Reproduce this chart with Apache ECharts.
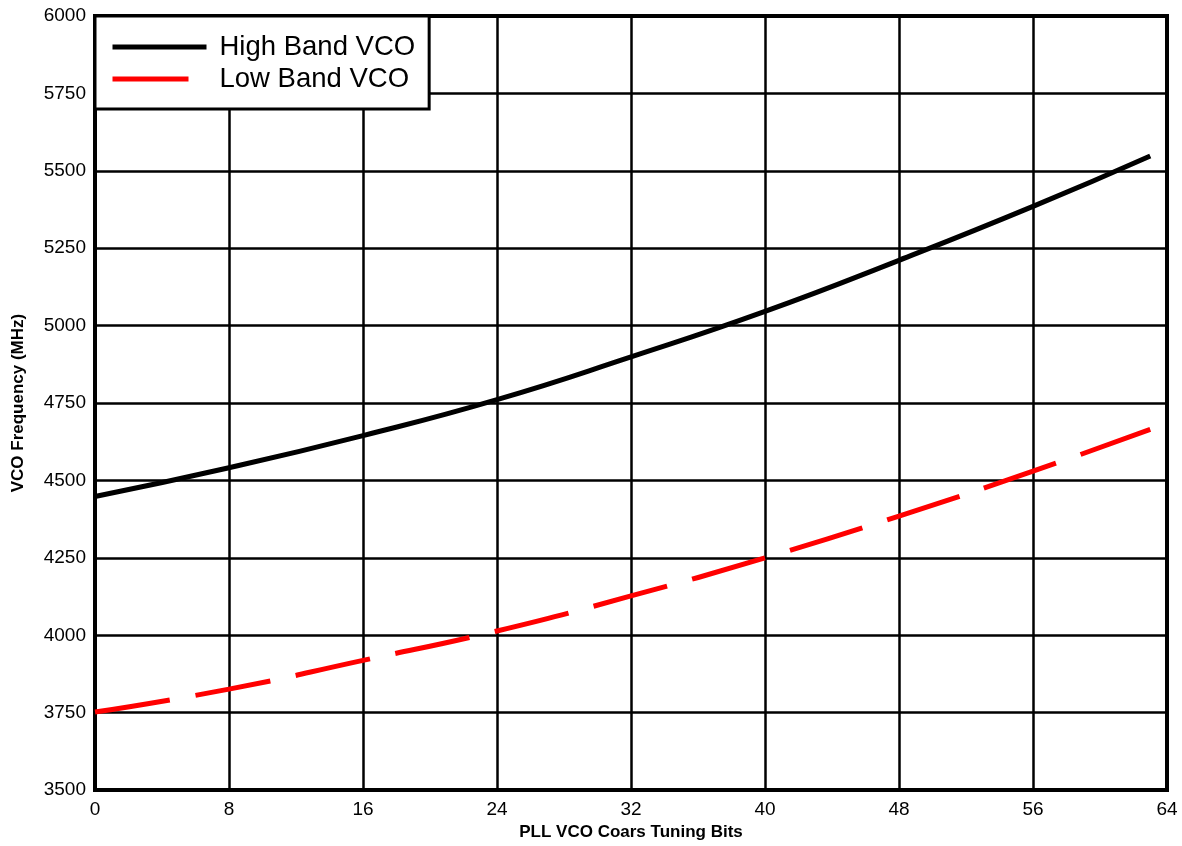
<!DOCTYPE html>
<html>
<head>
<meta charset="utf-8">
<script src="https://cdn.jsdelivr.net/npm/echarts@6/dist/echarts.min.js"></script>
<style>
  html, body { margin: 0; padding: 0; background: #fff; }
  #chart { width: 1182px; height: 846px; }
</style>
</head>
<body>
<div id="chart"></div>
<script>
// coarse tuning code (x) and VCO frequency in MHz
const tuningBits = [0, 8, 16, 24, 32, 40, 48, 56, 63]
const highBandVco = [4448, 4541, 4645, 4761, 4899, 5046, 5211, 5385, 5548]
const lowBandVco = [3752, 3826, 3919, 4014, 4127, 4250, 4385, 4530, 4665]

function pairs(xs, ys) {
  return xs.map((x, i) => [x, ys[i]])
}

const font = '"Liberation Sans", Arial, sans-serif'
const chart = echarts.init(document.getElementById('chart'))

chart.setOption({
  animation: false,
  backgroundColor: '#fff',
  grid: {
    left: 95,
    right: 15,
    top: 16,
    bottom: 55,
    show: true,
    borderColor: '#000',
    borderWidth: 4
  },
  legend: {
    orient: 'vertical',
    left: 95,
    top: 16,
    padding: [17, 14, 16, 15],
    backgroundColor: '#fff',
    borderColor: '#000',
    borderWidth: 3,
    borderRadius: 0,
    itemWidth: 94,
    itemHeight: 28,
    itemGap: 4,
    itemStyle: { opacity: 0 },
    lineStyle: { width: 5 },
    textStyle: {
      fontFamily: font,
      fontSize: 27.5,
      color: '#000',
      padding: [0, 0, 0, 8]
    },
    data: ['High Band VCO', 'Low Band VCO']
  },
  xAxis: {
    type: 'value',
    min: 0,
    max: 64,
    interval: 8,
    name: 'PLL VCO Coars Tuning Bits',
    nameLocation: 'middle',
    nameGap: 33,
    nameTextStyle: { fontFamily: font, fontSize: 17, fontWeight: 'bold', color: '#000' },
    axisLine: { show: true, lineStyle: { color: '#000', width: 4 } },
    axisTick: { show: false },
    axisLabel: { fontFamily: font, fontSize: 19, color: '#000', margin: 10 },
    splitLine: { show: true, lineStyle: { color: '#000', width: 2.5 } }
  },
  yAxis: {
    type: 'value',
    min: 3500,
    max: 6000,
    interval: 250,
    name: 'VCO Frequency (MHz)',
    nameLocation: 'middle',
    nameRotate: 90,
    nameGap: 68,
    nameTextStyle: { fontFamily: font, fontSize: 17, fontWeight: 'bold', color: '#000' },
    axisLine: { show: true, lineStyle: { color: '#000', width: 4 } },
    axisTick: { show: false },
    axisLabel: { fontFamily: font, fontSize: 19, color: '#000', margin: 9, formatter: v => String(v) },
    splitLine: { show: true, lineStyle: { color: '#000', width: 2.5 } }
  },
  series: [
    {
      name: 'High Band VCO',
      type: 'line',
      smooth: true,
      symbol: 'none',
      color: '#000',
      lineStyle: { color: '#000', width: 5 },
      data: pairs(tuningBits, highBandVco)
    },
    {
      name: 'Low Band VCO',
      type: 'line',
      smooth: true,
      symbol: 'none',
      color: '#ff0000',
      lineStyle: { color: '#ff0000', width: 5, type: [76, 26] },
      data: pairs(tuningBits, lowBandVco)
    }
  ]
})
</script>
</body>
</html>
